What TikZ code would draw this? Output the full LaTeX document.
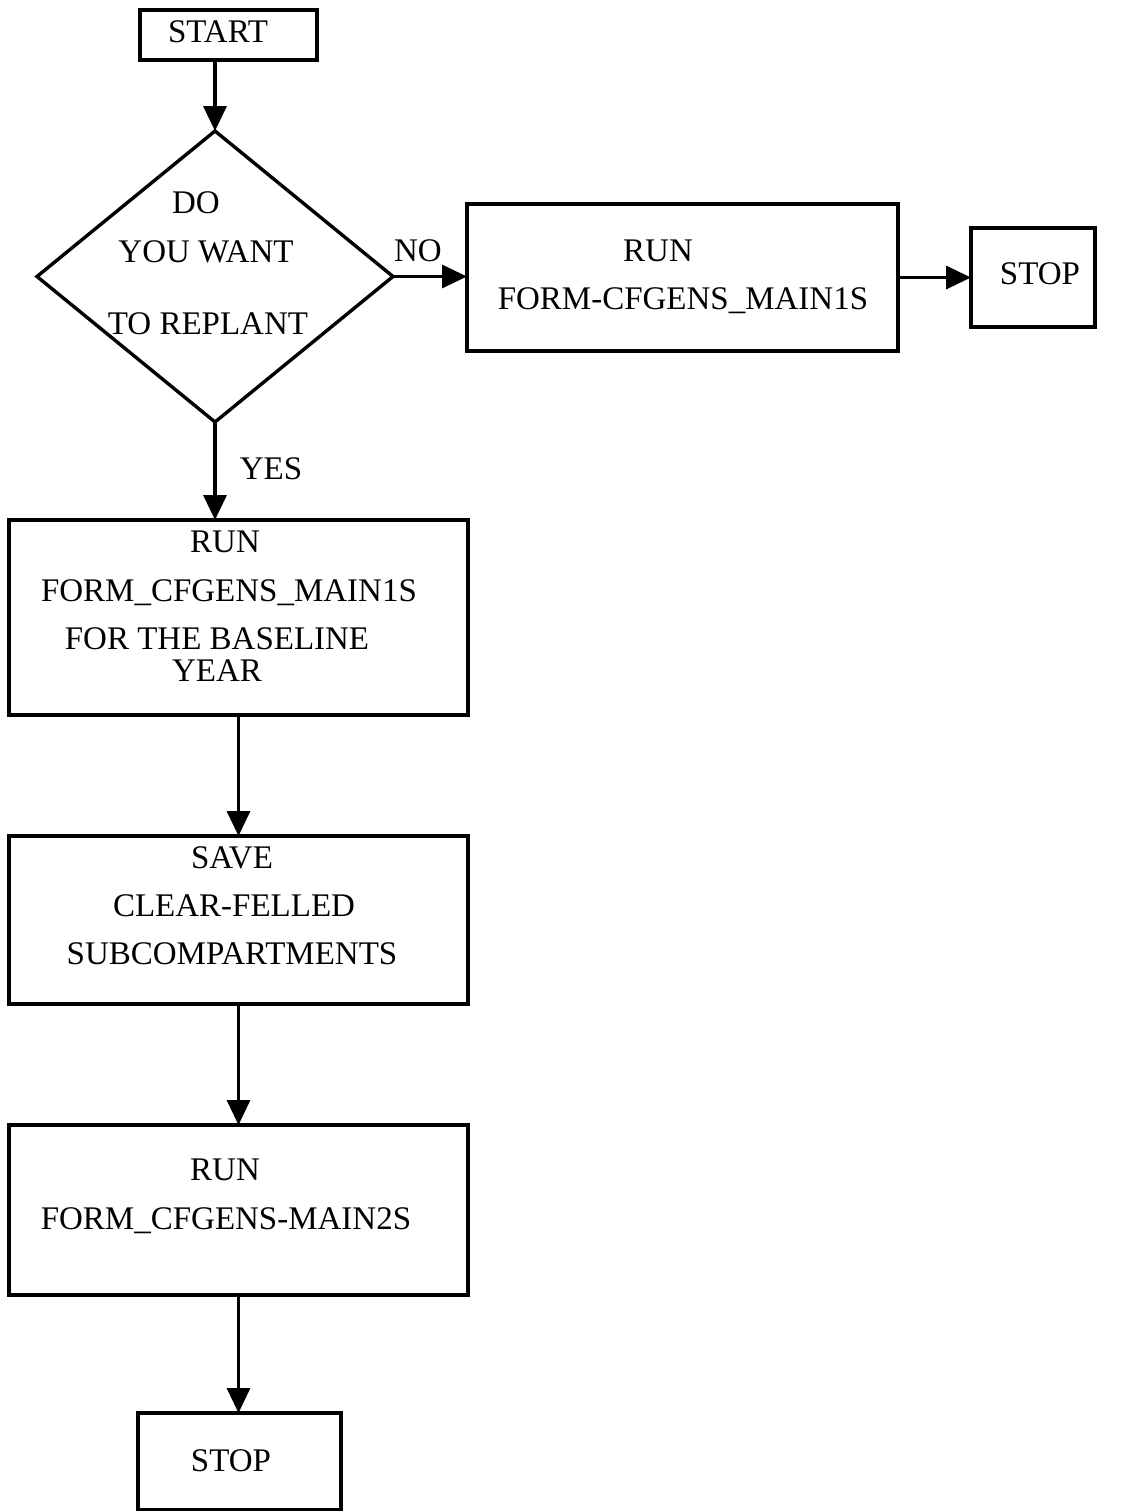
\documentclass[tikz,border=0pt]{standalone}
\usepackage{fontspec}
\setmainfont{Liberation Serif}
\usetikzlibrary{shapes.geometric,arrows.meta}
\begin{document}
\begin{tikzpicture}[x=0.5pt,y=-0.5pt,
 box/.style={draw,line width=1.7pt,inner sep=0pt,outer sep=0pt,rectangle},
 dbox/.style={draw,diamond,line width=1.7pt,inner sep=0pt,outer sep=0pt},
 lbl/.style={anchor=base,inner sep=0pt,font=\fontsize{16.5}{19}\selectfont},
 arr/.style={line width=1.7pt,-{Triangle[length=12.5pt,width=11.5pt]}}]
\useasboundingbox (0,0) rectangle (1126,1511);
% shapes
\node[box,minimum width=88.5pt,minimum height=25pt] (start) at (228.5,35) {};
\node[dbox,minimum width=178pt,minimum height=145.5pt] (dia) at (215,276.5) {};
\node[box,minimum width=215.5pt,minimum height=73.5pt] (run1) at (682.5,277.5) {};
\node[box,minimum width=62pt,minimum height=49.5pt] (stop1) at (1033,277.5) {};
\node[box,minimum width=229.5pt,minimum height=97.5pt] (box2) at (238.5,617.5) {};
\node[box,minimum width=229.5pt,minimum height=84pt] (box3) at (238.5,920) {};
\node[box,minimum width=229.5pt,minimum height=85pt] (box4) at (238.5,1210) {};
\node[box,minimum width=101.5pt,minimum height=48.5pt] (stop2) at (239.5,1461.5) {};
% texts
\node[lbl] (tstart) at (218,42) {START};
\node[lbl] (tdo) at (196,213) {DO};
\node[lbl] (tyou) at (206,262) {YOU WANT};
\node[lbl] (tto) at (208,334) {TO REPLANT};
\node[lbl] (tno) at (418,261) {NO};
\node[lbl] (tyes) at (271,479) {YES};
\node[lbl] (trun1a) at (658,261) {RUN};
\node[lbl] (trun1b) at (683,309) {FORM-CFGENS\_MAIN1S};
\node[lbl] (tstop1) at (1040,284) {STOP};
\node[lbl] (t2a) at (225,552) {RUN};
\node[lbl] (t2b) at (229,601) {FORM\_CFGENS\_MAIN1S};
\node[lbl] (t2c) at (217,649) {FOR THE BASELINE};
\node[lbl] (t2d) at (217,681) {YEAR};
\node[lbl] (t3a) at (232,868) {SAVE};
\node[lbl] (t3b) at (234,916) {CLEAR-FELLED};
\node[lbl] (t3c) at (232,964) {SUBCOMPARTMENTS};
\node[lbl] (t4a) at (225,1180) {RUN};
\node[lbl] (t4b) at (226,1229) {FORM\_CFGENS-MAIN2S};
\node[lbl] (tstop2) at (231,1471) {STOP};
% connectors
\draw[arr] (start.south -| dia.north) -- (dia.north);
\draw[arr] (dia.east) -- (run1.west |- dia.east);
\draw[arr] (run1.east) -- (stop1.west);
\draw[arr] (dia.south) -- (dia.south |- box2.north);
\draw[arr] (box2.south) -- (box3.north);
\draw[arr] (box3.south) -- (box4.north);
\draw[arr] (box4.south) -- (box4.south |- stop2.north);
\end{tikzpicture}
\end{document}
